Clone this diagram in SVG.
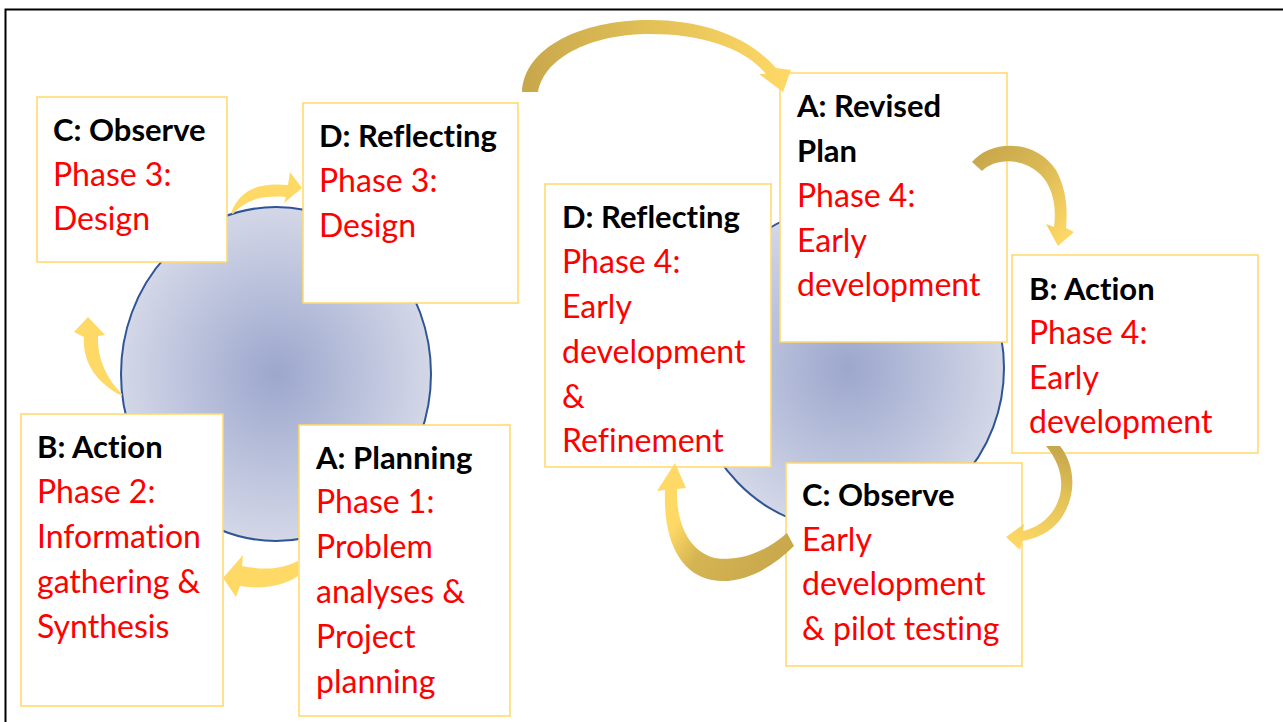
<svg xmlns="http://www.w3.org/2000/svg" width="1283" height="722" viewBox="0 0 1283 722">
<defs>
<radialGradient id="cg" cx="0.5" cy="0.5" r="0.5">
<stop offset="0" stop-color="#9ca7cd"/>
<stop offset="1" stop-color="#d3d7e7"/>
</radialGradient>
<linearGradient id="gD" gradientUnits="userSpaceOnUse" x1="522" y1="60" x2="790" y2="60"><stop offset="0" stop-color="#c7a74b"/><stop offset="0.45" stop-color="#e0bf56"/><stop offset="1" stop-color="#ffd966"/></linearGradient>
<linearGradient id="gE" gradientUnits="userSpaceOnUse" x1="972" y1="160" x2="1065" y2="240"><stop offset="0" stop-color="#c7a74b"/><stop offset="0.45" stop-color="#d9b854"/><stop offset="1" stop-color="#ffd966"/></linearGradient>
<linearGradient id="gF" gradientUnits="userSpaceOnUse" x1="1050" y1="446" x2="1010" y2="545"><stop offset="0" stop-color="#c7a74b"/><stop offset="0.4" stop-color="#e3c258"/><stop offset="1" stop-color="#ffd966"/></linearGradient>
<linearGradient id="gG" gradientUnits="userSpaceOnUse" x1="790" y1="560" x2="668" y2="470"><stop offset="0" stop-color="#c7a74b"/><stop offset="0.5" stop-color="#d4b452"/><stop offset="0.75" stop-color="#ffd966"/><stop offset="1" stop-color="#ffd966"/></linearGradient>
</defs>
<style>
.box{fill:#ffffff;stroke:#ffd966;stroke-width:1.5}
.circ{fill:url(#cg);stroke:#2f5597;stroke-width:2}
text{font-family:Lato,"Liberation Sans",sans-serif;font-size:32px;font-variant-ligatures:none}
.h{font-weight:bold;fill:#000000;font-size:31px}
.r{fill:#ff0000}
.ay{fill:#ffd966}
</style>
<rect x="5.5" y="9.5" width="1300" height="730" fill="#ffffff" stroke="#000000" stroke-width="2"/>
<g id="circle-left"><ellipse class="circ" cx="276" cy="374" rx="155" ry="167"/></g>
<g id="circle-right"><ellipse class="circ" cx="848" cy="368" rx="156" ry="162"/></g>

<g id="node-c-observe-3">
<rect class="box" x="37" y="97" width="190" height="165"/>
<text x="53" y="141" class="h">C: Observe</text>
<text x="53" y="186" class="r">Phase 3:</text>
<text x="53" y="230" class="r">Design</text>
</g>
<g id="node-d-reflecting-3">
<rect class="box" x="303" y="103" width="215" height="200"/>
<text x="319" y="147" class="h">D: Reflecting</text>
<text x="319" y="192" class="r">Phase 3:</text>
<text x="319" y="237" class="r">Design</text>
</g>
<g id="node-b-action-2">
<rect class="box" x="21" y="414" width="202" height="292"/>
<text x="37" y="458" class="h">B: Action</text>
<text x="37" y="503" class="r">Phase 2:</text>
<text x="37" y="548" class="r">Information</text>
<text x="37" y="593" class="r">gathering &amp;</text>
<text x="37" y="638" class="r">Synthesis</text>
</g>
<g id="node-a-planning-1">
<rect class="box" x="299" y="425" width="211" height="291"/>
<text x="316" y="469" class="h">A: Planning</text>
<text x="316" y="513" class="r">Phase 1:</text>
<text x="316" y="558" class="r">Problem</text>
<text x="316" y="603" class="r">analyses &amp;</text>
<text x="316" y="648" class="r">Project</text>
<text x="316" y="693" class="r">planning</text>
</g>
<g id="node-d-reflecting-4">
<rect class="box" x="545" y="184" width="226" height="283"/>
<text x="562" y="228" class="h">D: Reflecting</text>
<text x="562" y="273" class="r">Phase 4:</text>
<text x="562" y="318" class="r">Early</text>
<text x="562" y="363" class="r">development</text>
<text x="562" y="408" class="r">&amp;</text>
<text x="562" y="452" class="r">Refinement</text>
</g>
<g id="node-a-revised-plan-4">
<rect class="box" x="780" y="73" width="227" height="269"/>
<text x="797" y="117" class="h">A: Revised</text>
<text x="797" y="162" class="h">Plan</text>
<text x="797" y="207" class="r">Phase 4:</text>
<text x="797" y="252" class="r">Early</text>
<text x="797" y="296" class="r">development</text>
</g>
<g id="node-b-action-4">
<rect class="box" x="1012" y="255" width="246" height="198"/>
<text x="1029" y="300" class="h">B: Action</text>
<text x="1029" y="344" class="r">Phase 4:</text>
<text x="1029" y="389" class="r">Early</text>
<text x="1029" y="433" class="r">development</text>
</g>
<g id="node-c-observe-4">
<rect class="box" x="786" y="463" width="236" height="203"/>
<text x="802" y="506" class="h">C: Observe</text>
<text x="802" y="551" class="r">Early</text>
<text x="802" y="595" class="r">development</text>
<text x="802" y="640" class="r">&amp; pilot testing</text>
</g>

<g id="connectors">
<path class="ay" d="M 231 213 C 240 190, 258 182, 288 185 L 290 172 L 302 188 L 284 203 L 286 197 C 262 195, 245 200, 233 214 Z"/>
<path class="ay" d="M 122 396 C 100 385, 82 365, 84 337 L 74 332 L 88 317 L 105 335 L 98 336 C 97 360, 108 380, 122 394 Z"/>
<path class="ay" d="M 298 561 C 280 570, 262 570, 242 566 L 243 555 L 223 578 L 236 597 L 240 586 C 265 590, 285 585, 298 576 Z"/>
<path fill="url(#gD)" d="M 522 92 C 524 48, 580 20, 650 20 C 705 20, 750 38, 776 68 L 791 70 L 783 92 L 759 74 L 766 74 C 745 48, 702 34, 650 34 C 595 34, 545 55, 538 92 Z"/>
<path fill="url(#gE)" d="M 972 162 C 990 140, 1035 138, 1056 170 C 1066 188, 1068 208, 1066 228 L 1074 232 L 1058 246 L 1046 224 L 1054 227 C 1057 205, 1052 186, 1040 174 C 1022 157, 995 158, 982 171 Z"/>
<path fill="url(#gF)" d="M 1046 446 L 1060 446 C 1075 465, 1078 495, 1060 520 C 1050 532, 1038 538, 1022 541 L 1020 550 L 1006 537 L 1024 524 L 1023 531 C 1040 527, 1055 515, 1060 495 C 1064 478, 1058 460, 1046 446 Z"/>
<path fill="url(#gG)" d="M 787 533 L 794 546 C 770 570, 740 585, 712 580 C 680 574, 663 540, 665 490 L 657 491 L 675 463 L 686 488 L 677 489 C 676 525, 690 552, 715 558 C 740 562, 765 552, 787 533 Z"/>
</g>
</svg>
